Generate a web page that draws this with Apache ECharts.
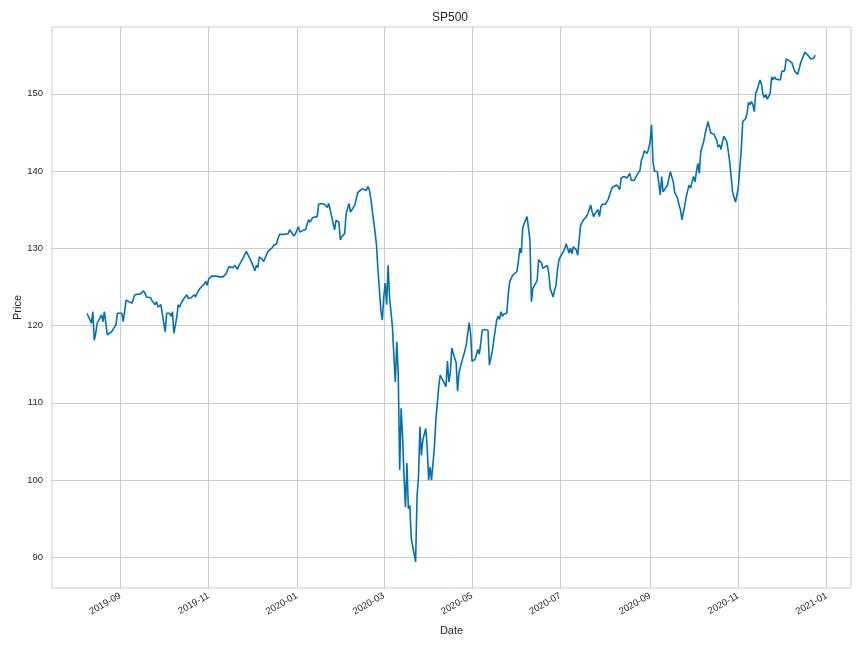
<!DOCTYPE html>
<html><head><meta charset="utf-8">
<script src="https://cdn.jsdelivr.net/npm/echarts@6/dist/echarts.min.js"></script>
<style>html,body{margin:0;padding:0;background:#fff}#chart{width:864px;height:648px}</style>
</head><body><div id="chart"></div>
<script>
const dates = [
'2019-08-09','2019-08-12','2019-08-13','2019-08-14','2019-08-15','2019-08-16','2019-08-19','2019-08-20','2019-08-21','2019-08-22','2019-08-23','2019-08-26','2019-08-27','2019-08-28','2019-08-29','2019-08-30',
'2019-09-02','2019-09-03','2019-09-05','2019-09-06','2019-09-09','2019-09-11','2019-09-12','2019-09-15','2019-09-17','2019-09-18','2019-09-19','2019-09-22','2019-09-23','2019-09-25','2019-09-26','2019-09-27','2019-09-29','2019-09-30',
'2019-10-02','2019-10-03','2019-10-05','2019-10-06','2019-10-07','2019-10-08','2019-10-10','2019-10-11','2019-10-12','2019-10-13','2019-10-15','2019-10-16','2019-10-17','2019-10-18','2019-10-19','2019-10-20','2019-10-22','2019-10-23','2019-10-24','2019-10-25','2019-10-26','2019-10-27','2019-10-29','2019-10-30','2019-10-31',
'2019-11-01','2019-11-03','2019-11-04','2019-11-06','2019-11-09','2019-11-11','2019-11-13','2019-11-15','2019-11-18','2019-11-19','2019-11-20','2019-11-21','2019-11-22','2019-11-25','2019-11-27','2019-11-28','2019-11-30',
'2019-12-02','2019-12-03','2019-12-04','2019-12-05','2019-12-06','2019-12-08','2019-12-09','2019-12-10','2019-12-12','2019-12-13','2019-12-15','2019-12-16','2019-12-17','2019-12-18','2019-12-19','2019-12-20','2019-12-23','2019-12-26','2019-12-27','2019-12-28','2019-12-29','2019-12-30','2019-12-31',
'2020-01-01','2020-01-02','2020-01-03','2020-01-04','2020-01-05','2020-01-07','2020-01-08','2020-01-09','2020-01-10','2020-01-11','2020-01-12','2020-01-15','2020-01-16','2020-01-18','2020-01-20','2020-01-22','2020-01-23','2020-01-24','2020-01-25','2020-01-27','2020-01-28','2020-01-30','2020-01-31',
'2020-02-01','2020-02-03','2020-02-04','2020-02-06','2020-02-07','2020-02-09','2020-02-10','2020-02-12','2020-02-13','2020-02-15','2020-02-16','2020-02-18','2020-02-19','2020-02-20','2020-02-21','2020-02-22','2020-02-24','2020-02-25','2020-02-26','2020-02-27','2020-02-28','2020-02-29',
'2020-03-01','2020-03-02','2020-03-03','2020-03-04','2020-03-05','2020-03-07','2020-03-08','2020-03-09','2020-03-10','2020-03-11','2020-03-12','2020-03-13','2020-03-14','2020-03-15','2020-03-16','2020-03-17','2020-03-18','2020-03-19','2020-03-20','2020-03-21','2020-03-23','2020-03-24','2020-03-25','2020-03-26','2020-03-27','2020-03-28','2020-03-30','2020-03-31',
'2020-04-01','2020-04-02','2020-04-03','2020-04-05','2020-04-06','2020-04-07','2020-04-08','2020-04-09','2020-04-10','2020-04-13','2020-04-14','2020-04-15','2020-04-16','2020-04-17','2020-04-18','2020-04-20','2020-04-21','2020-04-22','2020-04-23','2020-04-24','2020-04-26','2020-04-27','2020-04-28','2020-04-29','2020-04-30',
'2020-05-01','2020-05-03','2020-05-04','2020-05-05','2020-05-06','2020-05-07','2020-05-08','2020-05-10','2020-05-12','2020-05-13','2020-05-15','2020-05-16','2020-05-18','2020-05-19','2020-05-20','2020-05-21','2020-05-22','2020-05-23','2020-05-25','2020-05-26','2020-05-27','2020-05-28','2020-05-29',
'2020-06-01','2020-06-02','2020-06-03','2020-06-04','2020-06-05','2020-06-06','2020-06-08','2020-06-10','2020-06-11','2020-06-12','2020-06-14','2020-06-15','2020-06-16','2020-06-17','2020-06-18','2020-06-19','2020-06-20','2020-06-22','2020-06-23','2020-06-24','2020-06-26','2020-06-27','2020-06-28','2020-06-29','2020-06-30',
'2020-07-01','2020-07-02','2020-07-04','2020-07-05','2020-07-07','2020-07-08','2020-07-09','2020-07-10','2020-07-12','2020-07-13','2020-07-15','2020-07-16','2020-07-17','2020-07-19','2020-07-20','2020-07-22','2020-07-23','2020-07-24','2020-07-25','2020-07-27','2020-07-28','2020-07-29','2020-07-30','2020-07-31',
'2020-08-01','2020-08-02','2020-08-03','2020-08-05','2020-08-06','2020-08-09','2020-08-10','2020-08-11','2020-08-12','2020-08-13','2020-08-14','2020-08-16','2020-08-18','2020-08-19','2020-08-21','2020-08-23','2020-08-25','2020-08-26','2020-08-27','2020-08-28','2020-08-30','2020-08-31',
'2020-09-01','2020-09-02','2020-09-03','2020-09-04','2020-09-06','2020-09-07','2020-09-08','2020-09-09','2020-09-10','2020-09-11','2020-09-13','2020-09-15','2020-09-16','2020-09-17','2020-09-18','2020-09-20','2020-09-21','2020-09-22','2020-09-23','2020-09-24','2020-09-25','2020-09-26','2020-09-27','2020-09-28','2020-09-29','2020-09-30',
'2020-10-01','2020-10-02','2020-10-03','2020-10-04','2020-10-05','2020-10-06','2020-10-08','2020-10-09','2020-10-11','2020-10-12','2020-10-13','2020-10-15','2020-10-17','2020-10-18','2020-10-19','2020-10-20','2020-10-21','2020-10-22','2020-10-24','2020-10-25','2020-10-26','2020-10-28','2020-10-29','2020-10-30','2020-10-31',
'2020-11-01','2020-11-03','2020-11-04','2020-11-06','2020-11-07','2020-11-08','2020-11-09','2020-11-10','2020-11-11','2020-11-12','2020-11-13','2020-11-14','2020-11-15','2020-11-16','2020-11-17','2020-11-18','2020-11-19','2020-11-20','2020-11-21','2020-11-23','2020-11-24','2020-11-25','2020-11-26','2020-11-27','2020-11-28','2020-11-30',
'2020-12-01','2020-12-02','2020-12-03','2020-12-04','2020-12-06','2020-12-07','2020-12-08','2020-12-09','2020-12-10','2020-12-12','2020-12-13','2020-12-14','2020-12-15','2020-12-17','2020-12-18','2020-12-19','2020-12-21','2020-12-22','2020-12-23','2020-12-24'
];
const prices = [
121.6,120.3,121.8,118.1,119.0,120.3,121.4,120.5,121.8,121.6,118.8,119.2,119.5,119.3,120.1,121.6,
121.6,120.5,123.3,123.1,122.9,124.0,124.2,124.1,124.5,124.2,123.7,123.6,123.2,122.7,123.1,122.4,122.7,122.5,
119.2,121.6,121.6,121.2,121.8,119.0,121.1,122.7,122.4,122.9,123.5,123.3,124.0,123.5,123.7,123.6,124.0,123.7,124.2,124.4,124.8,125.0,125.4,125.7,125.2,
126.0,126.4,126.6,126.4,126.3,126.3,126.7,127.6,127.5,127.8,127.6,127.3,127.8,128.8,129.6,129.4,128.5,
127.6,127.1,127.8,127.5,128.9,128.6,128.3,128.1,129.6,129.8,130.1,130.4,130.6,130.6,131.3,131.8,131.8,131.9,132.4,132.1,131.9,131.6,131.9,
132.0,132.8,132.1,132.2,132.3,132.4,132.2,133.7,133.4,133.7,134.0,134.1,135.7,135.8,135.7,135.3,135.8,135.0,134.1,132.4,133.6,133.4,131.1,
131.5,131.9,134.5,135.8,134.7,135.3,135.6,137.2,137.3,137.7,137.7,137.5,138.0,137.6,136.5,135.0,132.1,130.4,127.2,127.0,122.0,120.7,
123.7,125.5,122.7,127.8,123.7,119.8,116.0,112.7,117.9,113.8,101.3,109.3,105.6,100.4,96.5,102.2,96.3,96.7,92.5,91.4,89.4,97.9,100.4,106.9,103.2,105.2,106.7,104.3,
100.0,101.7,100.0,104.3,107.8,108.0,112.1,113.6,113.4,112.1,115.4,112.7,113.9,117.1,116.4,115.2,111.5,113.9,113.9,115.4,116.7,117.5,117.7,120.4,119.0,
115.4,115.6,115.8,116.9,116.3,117.7,119.4,119.5,119.4,114.9,116.7,118.1,120.7,121.2,120.8,121.8,121.2,121.5,121.6,124.0,125.7,125.9,126.5,
127.0,128.3,130.0,129.4,132.6,133.2,134.1,131.1,123.1,124.8,125.5,125.9,128.5,128.3,128.1,127.4,127.6,127.8,126.8,124.8,123.7,124.6,125.2,127.2,128.5,
128.9,129.1,129.9,130.6,129.4,130.0,129.3,130.2,129.8,129.1,133.0,132.8,133.7,134.1,134.5,135.6,134.7,134.1,134.5,135.0,134.1,135.4,135.7,135.6,
135.7,135.9,136.3,137.5,137.9,138.2,138.0,137.6,139.1,138.9,139.3,139.1,139.7,138.8,138.8,139.5,140.1,141.4,141.9,142.6,142.3,142.9,
143.8,146.0,141.2,140.0,139.9,140.0,136.9,139.3,137.3,137.6,138.2,139.9,139.7,138.6,137.2,136.5,135.6,135.0,133.7,133.9,135.6,136.7,137.5,138.2,137.8,138.6,
139.3,138.6,139.9,141.0,139.7,142.5,143.8,144.8,146.4,145.6,144.9,144.8,144.0,143.1,143.4,142.8,143.8,144.5,143.8,142.6,141.2,137.3,136.6,136.0,136.9,
138.0,142.8,146.4,146.8,147.5,148.9,148.6,149.0,148.6,147.7,150.1,150.5,151.2,151.8,151.2,149.9,149.5,149.9,149.3,150.1,152.2,151.8,152.2,151.9,152.0,151.8,
152.9,152.8,153.0,154.5,154.3,154.4,154.0,153.4,152.9,152.5,152.3,154.0,154.0,155.4,155.3,155.0,154.5,154.3,154.6,155.0
];
const xTickDates = ['2019-09-01','2019-11-01','2020-01-01','2020-03-01','2020-05-01','2020-07-01','2020-09-01','2020-11-01','2021-01-01'];
const yTicks = [90, 100, 110, 120, 130, 140, 150];
const yMin = 86.03, yMax = 158.65;

function ts(s) { const p = s.split('-').map(Number); return Date.UTC(p[0], p[1] - 1, p[2]); }
const DAY = 86400000;
const xMin = ts('2019-09-01') - 47.2 * DAY;
const xMax = ts('2021-01-01') + 16.8 * DAY;
const xTickVals = xTickDates.map(ts);
const pad = n => (n < 10 ? '0' : '') + n;

const textColor = '#262626';
const gridColor = '#cccccc';
const font = "'Liberation Sans', Arial, sans-serif";

const chart = echarts.init(document.getElementById('chart'), null, { renderer: 'canvas' });
chart.setOption({
  animation: false,
  backgroundColor: '#ffffff',
  textStyle: { fontFamily: font },
  title: {
    text: 'SP500', left: 445, top: 7, textAlign: 'center',
    textStyle: { fontSize: 12, fontWeight: 'normal', color: textColor, fontFamily: font }
  },
  grid: { left: 52, right: 13, top: 27, bottom: 60, show: true, borderColor: gridColor, borderWidth: 1,
          containLabel: false, outerBoundsMode: 'none' },
  xAxis: {
    type: 'value', min: xMin, max: xMax,
    name: 'Date', nameLocation: 'middle', nameGap: 37, nameMoveOverlap: false,
    nameTextStyle: { fontSize: 11, color: textColor, fontFamily: font },
    axisLine: { show: false },
    axisTick: { show: false, customValues: xTickVals },
    axisLabel: {
      customValues: xTickVals, rotate: 30, fontSize: 9.5, color: textColor, margin: 7, fontFamily: font,
      formatter: v => { const d = new Date(v); return d.getUTCFullYear() + '-' + pad(d.getUTCMonth() + 1); }
    },
    splitLine: { show: true, lineStyle: { color: gridColor, width: 1 } }
  },
  yAxis: {
    type: 'value', min: yMin, max: yMax,
    name: 'Price', nameLocation: 'middle', nameGap: 29, nameRotate: 90, nameMoveOverlap: false,
    nameTextStyle: { fontSize: 11, color: textColor, fontFamily: font },
    axisLine: { show: false },
    axisTick: { show: false, customValues: yTicks },
    axisLabel: { customValues: yTicks, fontSize: 9.5, color: textColor, margin: 9, fontFamily: font },
    splitLine: { show: true, lineStyle: { color: gridColor, width: 1 } }
  },
  series: [{
    type: 'line', showSymbol: false, symbol: 'none',
    data: dates.map((d, i) => [ts(d), prices[i]]),
    lineStyle: { color: '#0072B2', width: 1.6 },
    itemStyle: { color: '#0072B2' }
  }]
});
</script>
</body></html>
